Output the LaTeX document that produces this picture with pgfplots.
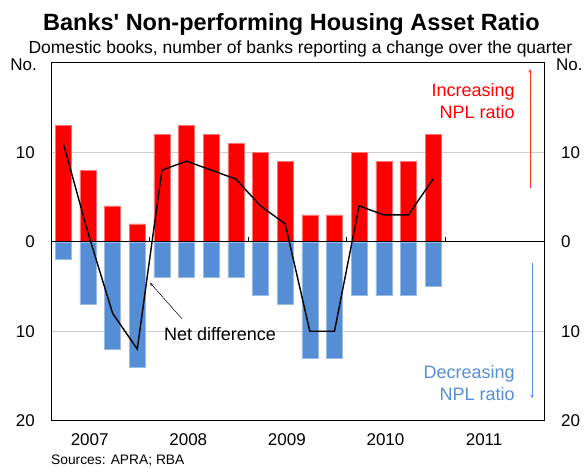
\documentclass[border=0pt]{standalone}
\usepackage{fontspec}
\setmainfont{Liberation Sans}
\usepackage{pgfplots}
\pgfplotsset{compat=1.18}
\definecolor{nplred}{RGB}{255,0,0}
\definecolor{nplblue}{RGB}{85,142,213}
\definecolor{gridgray}{RGB}{205,205,205}
\begin{document}
\begin{tikzpicture}
\useasboundingbox (-51pt,-46.3pt) rectangle (533pt,420.7pt);
\begin{axis}[
  at={(0pt,0pt)}, anchor=south west,
  scale only axis, width=493pt, height=358pt,
  xmin=0, xmax=20, ymin=-20, ymax=20,
  axis line style={black, line width=0.8pt},
  xtick={1.57,5.57,9.57,13.57,17.57},
  xticklabels={2007,2008,2009,2010,2011},
  ytick={-20,-10,0,10},
  yticklabels={20,10,0,10},
  major tick length=0pt,
  /pgf/number format/assume math mode=true,
  xticklabel style={font=\fontsize{17}{20}\selectfont, anchor=base, inner sep=0pt, yshift=-25pt},
  yticklabel style={font=\fontsize{17}{20}\selectfont, anchor=east, inner sep=0pt, xshift=-16pt},
  ymajorgrids=true,
  grid style={gridgray, line width=0.9pt},
  ybar, bar width=0.65, bar shift=0pt,
  clip=false,
]
\addplot[fill=nplred, draw=nplred!55!white, line width=0.4pt] coordinates {
 (0.5,13) (1.5,8) (2.5,4) (3.5,2) (4.5,12) (5.5,13) (6.5,12) (7.5,11)
 (8.5,10) (9.5,9) (10.5,3) (11.5,3) (12.5,10) (13.5,9) (14.5,9) (15.5,12)};
\addplot[fill=nplblue, draw=nplblue!60!white, line width=0.4pt] coordinates {
 (0.5,-2) (1.5,-7) (2.5,-12) (3.5,-14) (4.5,-4) (5.5,-4) (6.5,-4) (7.5,-4)
 (8.5,-6) (9.5,-7) (10.5,-13) (11.5,-13) (12.5,-6) (13.5,-6) (14.5,-6) (15.5,-5)};
\draw[black, line width=0.9pt] (axis cs:0,0) -- (axis cs:20,0);
\draw[black, line width=0.8pt] (axis cs:4,0) -- ++(0pt,5pt);
\draw[black, line width=0.8pt] (axis cs:8,0) -- ++(0pt,5pt);
\draw[black, line width=0.8pt] (axis cs:12,0) -- ++(0pt,5pt);
\draw[black, line width=0.8pt] (axis cs:16,0) -- ++(0pt,5pt);
\addplot[sharp plot, black, line width=1.4pt, mark=none] coordinates {
 (0.5,11) (1.5,1) (2.5,-8) (3.5,-12) (4.5,8) (5.5,9) (6.5,8) (7.5,7)
 (8.5,4) (9.5,2) (10.5,-10) (11.5,-10) (12.5,4) (13.5,3) (14.5,3) (15.5,7)};
\draw[-stealth, black, line width=0.5pt] (axis cs:5.31,-8.6) -- (axis cs:4.02,-4.6);
\node[anchor=west, inner sep=0pt, font=\fontsize{18}{21}\selectfont] at (axis cs:4.58,-10.27) {Net difference};
\draw[-stealth, nplred!80!white, line width=0.6pt] (axis cs:19.43,6.0) -- (axis cs:19.43,19.3);
\draw[-stealth, nplblue, line width=0.6pt] (axis cs:19.51,-2.4) -- (axis cs:19.51,-17.5);
\node[anchor=east, align=right, inner sep=0pt, text=nplred, font=\fontsize{18}{21.5}\selectfont] at (axis cs:18.82,15.7) {Increasing\\NPL ratio};
\node[anchor=east, align=right, inner sep=0pt, text=nplblue, font=\fontsize{18}{21.5}\selectfont] at (axis cs:18.82,-15.8) {Decreasing\\NPL ratio};
\end{axis}
\begin{axis}[
  at={(0pt,0pt)}, anchor=south west,
  scale only axis, width=493pt, height=358pt,
  xmin=0, xmax=20, ymin=-20, ymax=20,
  axis line style={draw=none},
  xtick=\empty,
  ytick={-20,-10,0,10},
  yticklabels={20,10,0,10},
  yticklabel pos=right,
  major tick length=0pt,
  /pgf/number format/assume math mode=true,
  yticklabel style={font=\fontsize{17}{20}\selectfont, anchor=west, inner sep=0pt, xshift=17pt},
]
\end{axis}
\node[anchor=base, font=\bfseries\fontsize{23.5}{27}\selectfont] at (240.4pt,389.7pt) {Banks\textquotesingle\ Non-performing Housing Asset Ratio};
\node[anchor=base, font=\fontsize{17.5}{20}\selectfont] at (249.4pt,366.7pt) {Domestic books, number of banks reporting a change over the quarter};
\node[anchor=base east, inner sep=0pt, font=\fontsize{17}{20}\selectfont] at (-14pt,350.7pt) {No.};
\node[anchor=base west, inner sep=0pt, font=\fontsize{17}{20}\selectfont] at (505pt,350.7pt) {No.};
\node[anchor=base west, inner sep=0pt, font=\fontsize{13.8}{16}\selectfont] at (0pt,-43.6pt) {Sources: APRA; RBA};
\end{tikzpicture}
\end{document}
